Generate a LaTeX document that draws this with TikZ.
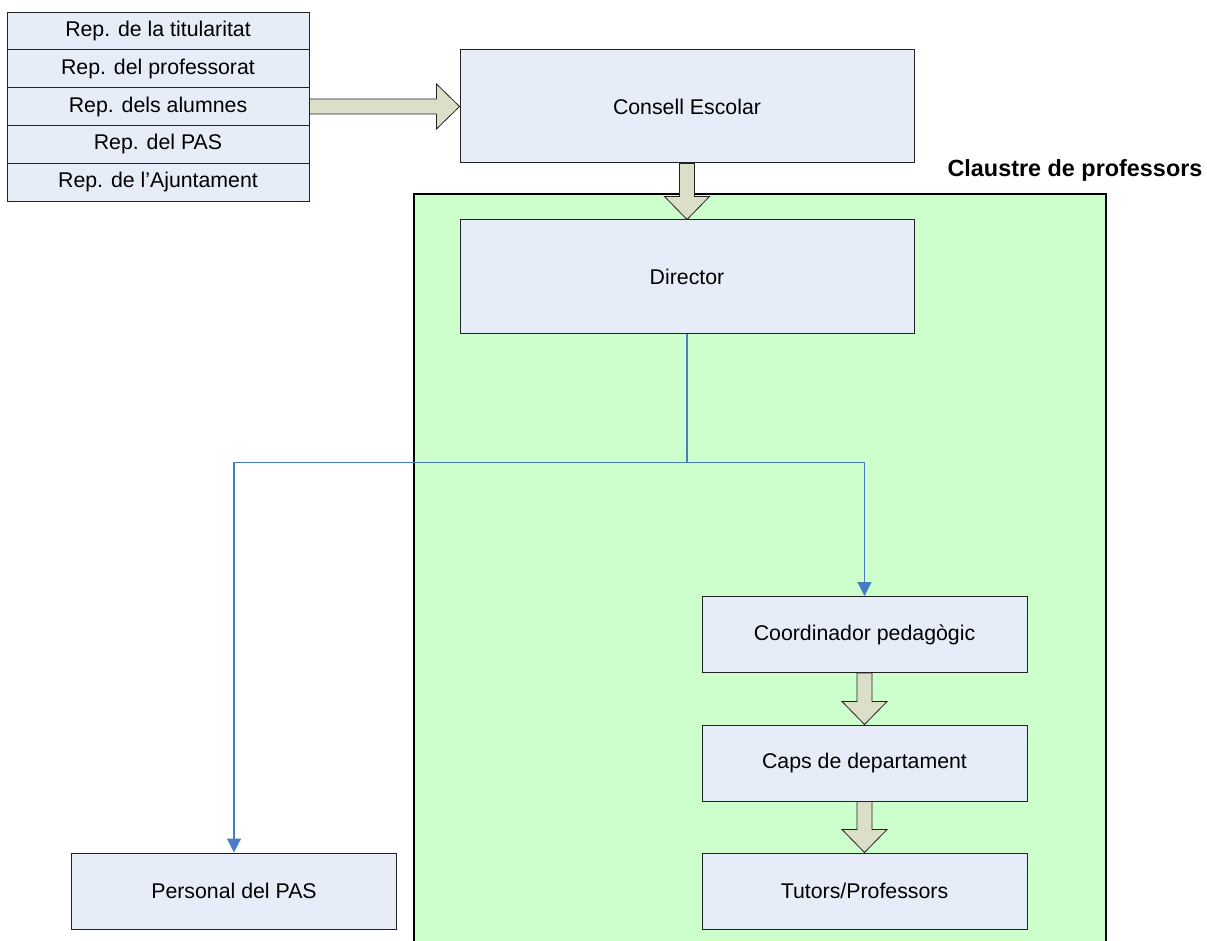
\documentclass[tikz,border=0pt]{standalone}
\usepackage{fontspec}
\setmainfont{Liberation Sans}
\usetikzlibrary{calc,arrows.meta}
\definecolor{boxfill}{HTML}{E7EDF8}
\definecolor{greenfill}{HTML}{CCFFCC}
\definecolor{arrowfill}{HTML}{DCDFC8}
\definecolor{linkblue}{HTML}{4A7CC4}
\definecolor{edge}{HTML}{222222}
\newcommand\blkdown[2]{%
  \draw[blockarrow] let \p1=(#1.south), \p2=(#2.north) in
    (\x1-7.5pt,\y1) -- (\x1-7.5pt,\y2+23pt) -- (\x1-22.5pt,\y2+23pt) -- (\x1,\y2)
    -- (\x1+22.5pt,\y2+23pt) -- (\x1+7.5pt,\y2+23pt) -- (\x1+7.5pt,\y1) -- cycle;}
\newcommand\blkright[2]{%
  \draw[blockarrow] let \p1=(#1.east), \p2=(#2.west) in
    (\x1,\y2+7.5pt) -- (\x2-23pt,\y2+7.5pt) -- (\x2-23pt,\y2+22.5pt) -- (\x2,\y2)
    -- (\x2-23pt,\y2-22.5pt) -- (\x2-23pt,\y2-7.5pt) -- (\x1,\y2-7.5pt) -- cycle;}
\tikzset{
  orgbox/.style={draw=edge, line width=1pt, fill=boxfill, inner sep=0pt,
    font=\fontsize{21.3}{25}\selectfont},
  repbox/.style={orgbox, minimum width=302pt, minimum height=37.8pt},
  bigbox/.style={orgbox, minimum width=454pt, minimum height=113pt},
  midbox/.style={orgbox, minimum width=325pt, minimum height=76pt},
  blockarrow/.style={draw=edge, line width=0.8pt, fill=arrowfill, line join=miter},
  blueline/.style={draw=linkblue, line width=1.2pt, -{Triangle[width=14pt,length=14pt]}},
}
\begin{document}
\begin{tikzpicture}[x=1pt,y=-1pt]
\useasboundingbox (0,0) rectangle (1207,941);
% green frame
\fill[greenfill] (414,194) rectangle (1106,950);
\draw[black, line width=2pt] (414,950) -- (414,194) -- (1106,194) -- (1106,950);
\node[font=\bfseries\fontsize{23.4}{28}\selectfont] (claustre) at (1075,170) {Claustre de professors};
% representatives
\node[repbox] (r1) at (158,31) {Rep. de la titularitat};
\node[repbox] (r2) at (158,68.8) {Rep. del professorat};
\node[repbox] (r3) at (158,106.6) {Rep. dels alumnes};
\node[repbox] (r4) at (158,144.4) {Rep. del PAS};
\node[repbox] (r5) at (158,182.2) {Rep. de l’Ajuntament};
% main boxes
\node[bigbox] (consell) at (687,106.5) {Consell Escolar};
\node[bigbox] (dir) at (687,276.5) {Director};
\node[midbox] (coord) at (864.5,634.5) {Coordinador pedagògic};
\node[midbox] (caps) at (864.5,763) {Caps de departament};
\node[midbox] (tut) at (864.5,891) {Tutors/Professors};
\node[midbox] (pas) at (234,891) {Personal del PAS};
% block arrows
\blkright{r3}{consell}
\blkdown{consell}{dir}
\blkdown{coord}{caps}
\blkdown{caps}{tut}
% blue connectors
\coordinate (split) at ($(dir.south)+(0,129)$);
\draw[blueline] (dir.south) -- (split) -| (pas.north);
\draw[blueline] (split) -| (coord.north);
\end{tikzpicture}
\end{document}
